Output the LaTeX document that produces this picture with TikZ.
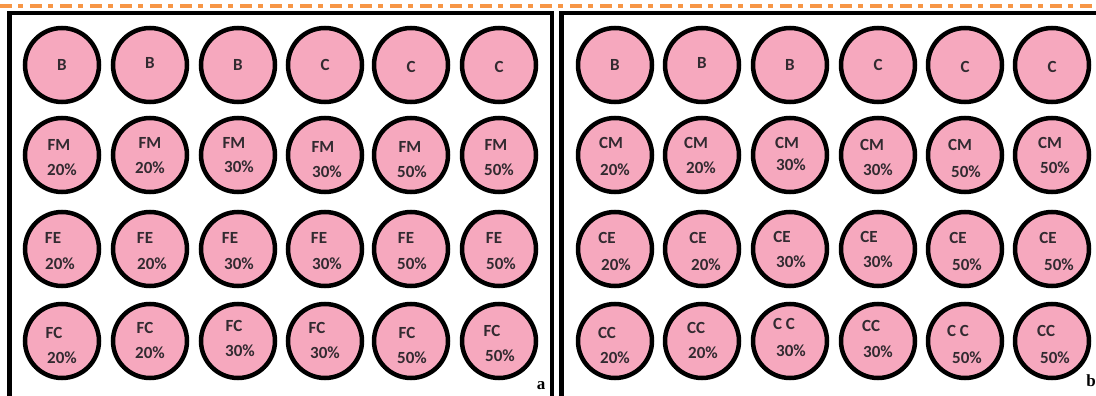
\documentclass[tikz,border=0pt]{standalone}
\usepackage{fontspec}
\setmainfont{Carlito}
\newfontfamily\panelserif{Liberation Serif}
\definecolor{wellpink}{RGB}{246,168,190}
\definecolor{hdrorange}{RGB}{247,150,70}
\definecolor{wtxt}{RGB}{50,42,48}
\begin{document}
\begin{tikzpicture}[x=1pt,y=-1pt,
  well/.style={circle,draw=black,fill=wellpink,line width=4.5pt,minimum size=74pt,inner sep=0pt,
    font=\fontsize{17}{17}\selectfont\bfseries,text=wtxt},
  wtext/.style={font=\fontsize{17}{17}\selectfont\bfseries,text=wtxt,inner sep=0pt},
  panelframe/.style={line width=4.5pt,draw=black},
  panellabel/.style={font=\panelserif\bfseries\fontsize{17}{17}\selectfont,inner sep=0pt}]
\useasboundingbox (0,0) rectangle (1096,396);
\clip (0,0) rectangle (1096,396);
\fill[white] (0,0) rectangle (1096,396);
% header rule
\coordinate (hl) at (0,6);
\coordinate (hr) at (1100,6);
\draw[hdrorange,line width=4pt,dash pattern=on 12pt off 6pt on 5pt off 7pt] (hl) -- (hr);
% panel frames
\coordinate (La) at (9.5,420); \coordinate (Lb) at (9.5,13);
\coordinate (Lc) at (552,13);  \coordinate (Ld) at (552,420);
\draw[panelframe] (La) -- (Lb) -- (Lc) -- (Ld);
\coordinate (Ra) at (561.5,420); \coordinate (Rb) at (561.5,13);
\coordinate (Rc) at (1110,13);
\draw[panelframe] (Ra) -- (Rb) -- (Rc);
% ---------- panel a ----------
\foreach \x/\lab/\dy [count=\i] in {62/B/0,150/B/-2,238/B/0,325/C/0,411/C/2,499/C/2}{
  \node[well] (a1c\i) at (\x,65) {};
  \node[wtext] (a1t\i) at ([yshift=-\dy pt]a1c\i.center) {\lab};
}
\foreach \x/\lab/\ldx/\ldy/\pct/\pdx/\pdy [count=\i] in
  {62/FM/-3/-10/20/0/15, 150/FM/0/-12/20/0/13, 238/FM/-4/-12/30/1/12,
   325/FM/-2/-8/30/2/17, 411/FM/-1/-8/50/1/17, 499/FM/-3/-10/50/0/15}{
  \node[well] (a2c\i) at (\x,155) {};
  \node[wtext] (a2l\i) at ([shift={(\ldx,\ldy)}]a2c\i.center) {\lab};
  \node[wtext] (a2p\i) at ([shift={(\pdx,\pdy)}]a2c\i.center) {\pct\%};
}
\foreach \x/\lab/\ldx/\ldy/\pct/\pdx/\pdy [count=\i] in
  {62/FE/-9/-11/20/-2/15, 150/FE/-5/-11/20/2/15, 238/FE/-8/-11/30/1/15,
   325/FE/-6/-11/30/2/15, 411/FE/-5/-11/50/1/15, 499/FE/-5/-11/50/2/15}{
  \node[well] (a3c\i) at (\x,249) {};
  \node[wtext] (a3l\i) at ([shift={(\ldx,\ldy)}]a3c\i.center) {\lab};
  \node[wtext] (a3p\i) at ([shift={(\pdx,\pdy)}]a3c\i.center) {\pct\%};
}
\foreach \x/\lab/\ldx/\ldy/\pct/\pdx/\pdy [count=\i] in
  {62/FC/-8/-8/20/0/17, 150/FC/-5/-13/20/0/12, 238/FC/-4/-15/30/2/10,
   325/FC/-8/-13/30/0/12, 411/FC/-4/-8/50/1/17, 499/FC/-7/-10/50/1/15}{
  \node[well] (a4c\i) at (\x,341) {};
  \node[wtext] (a4l\i) at ([shift={(\ldx,\ldy)}]a4c\i.center) {\lab};
  \node[wtext] (a4p\i) at ([shift={(\pdx,\pdy)}]a4c\i.center) {\pct\%};
}
\node[panellabel] (alab) at (541,386) {a};
% ---------- panel b ----------
\foreach \x/\lab/\dy [count=\i] in {615/B/0,702/B/-2,790/B/0,878/C/0,965/C/2,1052/C/2}{
  \node[well] (b1c\i) at (\x,65) {};
  \node[wtext] (b1t\i) at ([yshift=-\dy pt]b1c\i.center) {\lab};
}
\foreach \x/\lab/\ldx/\ldy/\pct/\pdx/\pdy [count=\i] in
  {615/CM/-4/-12/20/0/15, 702/CM/-6/-12/20/-1/13, 790/CM/-3/-12/30/1/10,
   878/CM/-6/-10/30/0/15, 965/CM/-5/-10/50/1/17, 1052/CM/-2/-12/50/3/13}{
  \node[well] (b2c\i) at (\x,155) {};
  \node[wtext] (b2l\i) at ([shift={(\ldx,\ldy)}]b2c\i.center) {\lab};
  \node[wtext] (b2p\i) at ([shift={(\pdx,\pdy)}]b2c\i.center) {\pct\%};
}
\foreach \x/\lab/\ldx/\ldy/\pct/\pdx/\pdy [count=\i] in
  {615/CE/-8/-11/20/1/16, 702/CE/-4/-11/20/4/16, 790/CE/-8/-12/30/1/13,
   878/CE/-9/-12/30/0/13, 965/CE/-7/-11/50/2/16, 1052/CE/-4/-11/50/7/16}{
  \node[well] (b3c\i) at (\x,249) {};
  \node[wtext] (b3l\i) at ([shift={(\ldx,\ldy)}]b3c\i.center) {\lab};
  \node[wtext] (b3p\i) at ([shift={(\pdx,\pdy)}]b3c\i.center) {\pct\%};
}
\foreach \x/\lab/\ldx/\ldy/\pct/\pdx/\pdy [count=\i] in
  {615/CC/-8/-8/20/0/17, 702/CC/-6/-13/20/1/12, 790/C C/-6/-17/30/1/10,
   878/CC/-7/-15/30/0/11, 965/C C/-7/-10/50/2/17, 1052/CC/-6/-10/50/3/17}{
  \node[well] (b4c\i) at (\x,341) {};
  \node[wtext] (b4l\i) at ([shift={(\ldx,\ldy)}]b4c\i.center) {\lab};
  \node[wtext] (b4p\i) at ([shift={(\pdx,\pdy)}]b4c\i.center) {\pct\%};
}
\node[panellabel] (blab) at (1091,381) {b};
\end{tikzpicture}
\end{document}
